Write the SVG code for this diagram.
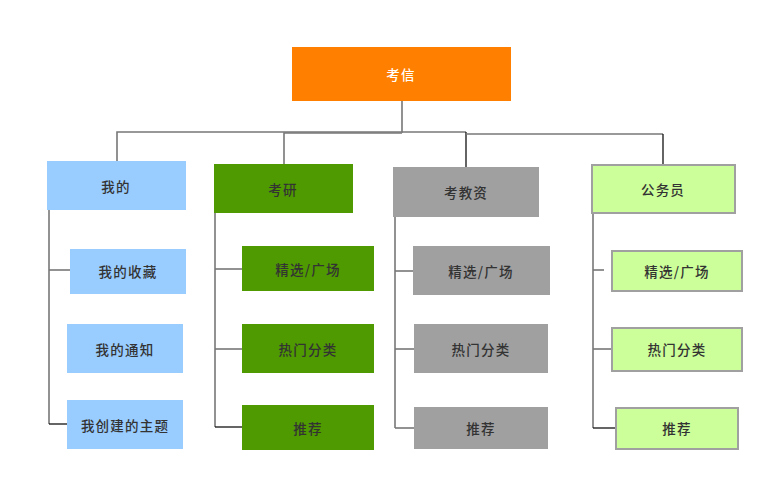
<svg xmlns="http://www.w3.org/2000/svg" width="773" height="481" viewBox="0 0 773 481">
<style>
text{font-family:"Noto Sans CJK SC","Liberation Sans",sans-serif;font-size:13.5px;font-weight:500;letter-spacing:1.2px;fill:#333;text-anchor:middle;dominant-baseline:central}
.blue{fill:#99CCFF}
.green{fill:#4E9A00}
.gray{fill:#A0A0A0}
.lime{fill:#CCFF99;stroke:#A0A0A0;stroke-width:2}
.ln{stroke:#777;stroke-width:1.6;fill:none}
.dk{stroke:#111;stroke-width:1.3;fill:none}
</style>
<rect width="773" height="481" fill="#fff"/>
<g id="connectors">
<polyline class="ln" points="402,101 402,132 117,132 117,161"/>
<polyline class="ln" points="284,164 284,133 402,133"/>
<polyline class="ln" points="402,132 466,132"/>
<line class="dk" x1="466" y1="132" x2="466" y2="167"/>
<polyline class="ln" points="466,134 663,134"/>
<line class="dk" x1="663" y1="134" x2="663" y2="165"/>
<polyline class="ln" points="49,210 49,424"/>
<line class="ln" x1="49" y1="270" x2="70" y2="270"/>
<line class="dk" x1="49" y1="424" x2="67" y2="424"/>
<polyline class="ln" points="215,213 215,427"/>
<line class="ln" x1="215" y1="269" x2="242" y2="269"/>
<line class="ln" x1="215" y1="349" x2="242" y2="349"/>
<line class="dk" x1="215" y1="427" x2="242" y2="427"/>
<polyline class="ln" points="395,217 395,428"/>
<line class="ln" x1="395" y1="271" x2="413" y2="271"/>
<line class="ln" x1="395" y1="349" x2="414" y2="349"/>
<line class="ln" x1="395" y1="428" x2="414" y2="428"/>
<polyline class="ln" points="593,213 593,428"/>
<line class="ln" x1="593" y1="270" x2="604" y2="270"/>
<line class="ln" x1="593" y1="349" x2="612" y2="349"/>
<line class="dk" x1="593" y1="428" x2="616" y2="428"/>
</g>
<g id="root"><rect x="292" y="47" width="219" height="54" fill="#FF8000"/><text x="401" y="74" style="fill:#fff">考信</text></g>
<g id="wode"><rect class="blue" x="47" y="161" width="139" height="49"/><text x="116" y="186">我的</text></g>
<g id="wode-shoucang"><rect class="blue" x="70" y="249" width="116" height="45"/><text x="128" y="271">我的收藏</text></g>
<g id="wode-tongzhi"><rect class="blue" x="67" y="324" width="116" height="49"/><text x="125" y="349">我的通知</text></g>
<g id="wode-zhuti"><rect class="blue" x="67" y="400" width="116" height="49"/><text x="125" y="425">我创建的主题</text></g>
<g id="kaoyan"><rect class="green" x="214" y="164" width="139" height="49"/><text x="283" y="189">考研</text></g>
<g id="kaoyan-jingxuan"><rect class="green" x="242" y="246" width="132" height="45"/><text x="308" y="269">精选/广场</text></g>
<g id="kaoyan-remen"><rect class="green" x="242" y="324" width="132" height="49"/><text x="308" y="349">热门分类</text></g>
<g id="kaoyan-tuijian"><rect class="green" x="242" y="405" width="132" height="45"/><text x="308" y="428">推荐</text></g>
<g id="kaojiaozi"><rect class="gray" x="393" y="167" width="146" height="50"/><text x="466" y="192">考教资</text></g>
<g id="kaojiaozi-jingxuan"><rect class="gray" x="413" y="246" width="137" height="49"/><text x="481" y="271">精选/广场</text></g>
<g id="kaojiaozi-remen"><rect class="gray" x="414" y="324" width="134" height="49"/><text x="481" y="349">热门分类</text></g>
<g id="kaojiaozi-tuijian"><rect class="gray" x="414" y="407" width="134" height="42"/><text x="481" y="428">推荐</text></g>
<g id="gongwuyuan"><rect class="lime" x="592" y="165" width="143" height="48"/><text x="663" y="189">公务员</text></g>
<g id="gongwuyuan-jingxuan"><rect class="lime" x="612" y="251" width="130" height="40"/><text x="677" y="271">精选/广场</text></g>
<g id="gongwuyuan-remen"><rect class="lime" x="612" y="328" width="130" height="43"/><text x="677" y="349">热门分类</text></g>
<g id="gongwuyuan-tuijian"><rect class="lime" x="616" y="408" width="122" height="41"/><text x="677" y="428">推荐</text></g>
</svg>
